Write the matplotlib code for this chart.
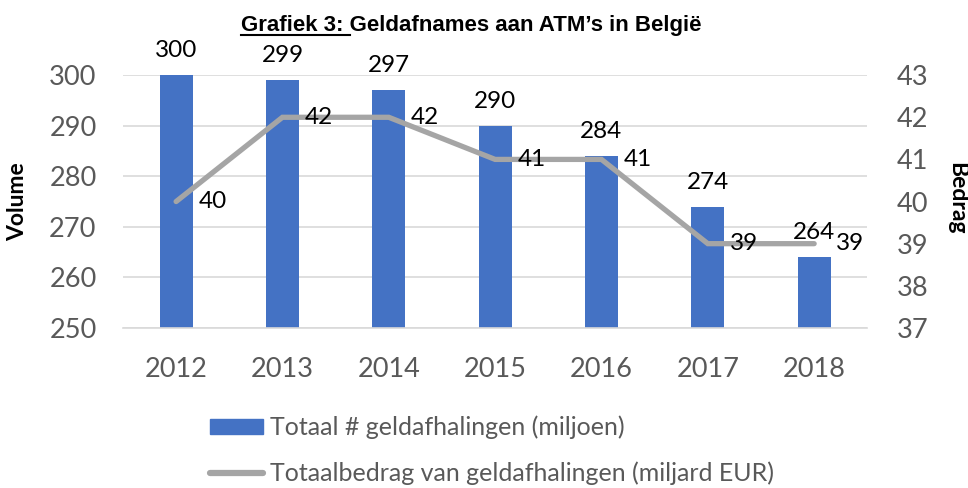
import matplotlib.pyplot as plt
from matplotlib.lines import Line2D
from matplotlib.patches import Patch

years = ['2012', '2013', '2014', '2015', '2016', '2017', '2018']
volume = [300, 299, 297, 290, 284, 274, 264]
bedrag = [40, 42, 42, 41, 41, 39, 39]
volume_ticks = [250, 260, 270, 280, 290, 300]
bedrag_ticks = [37, 38, 39, 40, 41, 42, 43]

bar_color = '#4472C4'
line_color = '#A5A5A5'
text_gray = '#595959'
font = ['Lato', 'DejaVu Sans']

fig = plt.figure(figsize=(9.68, 4.88), dpi=100)
ax = fig.add_axes([0.127, 0.328, 0.769, 0.518])
x = range(len(years))

# bars: volume
bars = ax.bar(x, volume, width=0.31, color=bar_color, zorder=2)
ax.set_ylim(250, 300)
ax.set_yticks(volume_ticks)
ax.set_xlim(-0.5, len(years) - 0.5)
ax.set_xticks(list(x))
ax.set_xticklabels(years)
ax.grid(axis='y', color='#D9D9D9', linewidth=1.2, zorder=0)
for s in ['top', 'left', 'right']:
    ax.spines[s].set_visible(False)
ax.spines['bottom'].set_color('#D9D9D9')
ax.spines['bottom'].set_linewidth(1.2)
ax.tick_params(length=0, labelsize=19.5, colors=text_gray)
ax.tick_params(axis='y', pad=19)
ax.tick_params(axis='x', pad=21)
for lab in ax.get_xticklabels() + ax.get_yticklabels():
    lab.set_family(font)
ax.bar_label(bars, labels=[str(v) for v in volume], padding=10,
             fontsize=17.5, family=font, color='black', clip_on=False)

# line: bedrag
ax2 = ax.twinx()
ax2.plot(list(x), bedrag, color=line_color, linewidth=3.8, zorder=3,
         solid_capstyle='round', solid_joinstyle='miter')
ax2.set_ylim(37, 43)
ax2.set_yticks(bedrag_ticks)
for s in ax2.spines.values():
    s.set_visible(False)
ax2.tick_params(length=0, labelsize=19.5, colors=text_gray, pad=21)
for lab in ax2.get_yticklabels():
    lab.set_family(font)
for i, v in enumerate(bedrag):
    ax2.annotate(str(v), (i, v), xytext=(16, 0), textcoords='offset points',
                 va='center', ha='left', fontsize=17.5, family=font, color='black')

fig.text(18 / 968, 1 - 202 / 488, 'Volume', rotation=90, ha='center', va='center',
         fontsize=16.5, fontweight='bold', family=font)
fig.text(957 / 968, 1 - 198 / 488, 'Bedrag', rotation=270, ha='center', va='center',
         fontsize=16.5, fontweight='bold', family=font)

# title with underlined prefix
tfont = dict(fontsize=16, fontweight='bold', family='Liberation Sans')
title = fig.text(0.487, 1 - 31 / 488, 'Grafiek 3: Geldafnames aan ATM’s in België',
                 ha='center', va='baseline', **tfont)
fig.canvas.draw()
r = fig.canvas.get_renderer()
tb = title.get_window_extent(r)
probe = fig.text(0, 0, 'Grafiek 3: ', **tfont)
pw = probe.get_window_extent(r).width
probe.remove()
uy = 488 - 34.5
fig.add_artist(Line2D([tb.x0 / 968, (tb.x0 + pw) / 968], [uy / 488, uy / 488],
                      color='black', linewidth=1.5, transform=fig.transFigure))

handles = [Patch(color=bar_color), Line2D([], [], color=line_color, linewidth=4.5,
                                          solid_capstyle='round')]
labels = ['Totaal # geldafhalingen (miljoen)',
          'Totaalbedrag van geldafhalingen (miljard EUR)']
leg = fig.legend(handles, labels, loc='upper left', bbox_to_anchor=(0.217, 0.148),
                 frameon=False, handlelength=2.1, handleheight=0.6,
                 handletextpad=0.3, labelspacing=0.88, borderpad=0, borderaxespad=0,
                 prop={'family': font, 'size': 18})
for t in leg.get_texts():
    t.set_color(text_gray)

fig.savefig('out.png', dpi=100)
